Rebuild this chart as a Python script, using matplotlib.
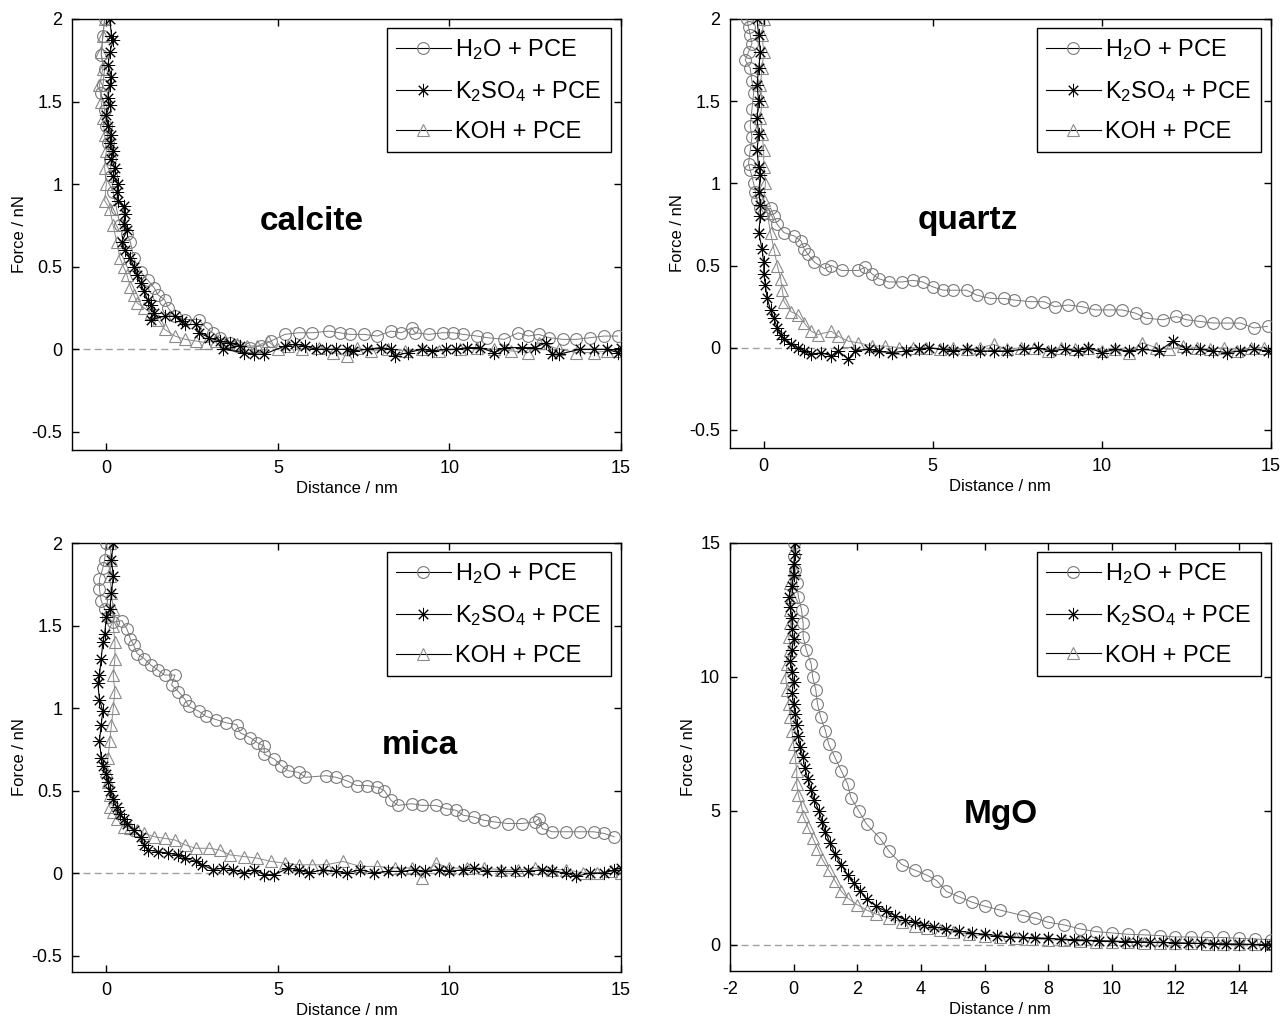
import matplotlib
matplotlib.use("Agg")
import matplotlib.pyplot as plt
from matplotlib.lines import Line2D

plt.rcParams['font.family'] = ['Liberation Sans', 'DejaVu Sans']
plt.rcParams['mathtext.fontset'] = 'custom'
plt.rcParams['mathtext.rm'] = 'Liberation Sans'
plt.rcParams['mathtext.it'] = 'Liberation Sans'
plt.rcParams['axes.unicode_minus'] = False

series_labels = ['H$_2$O + PCE', 'K$_2$SO$_4$ + PCE', 'KOH + PCE']
panel_names = ['calcite', 'quartz', 'mica', 'MgO']

# ---- calcite ----
calcite_h2o_x = [-0.05, -0.1, -0.15, -0.05, -0.1, -0.15, -0.05, 0.0, 0.05, 0.1, 0.15, 0.2, 0.3, 0.4, 0.6, 0.7, 0.8,
                 1.0, 1.2, 1.4, 1.5, 1.7, 1.8, 2.0, 2.3, 2.7, 2.9, 3.1, 3.3, 3.6, 3.8, 4.2, 4.5, 4.8, 5.2, 5.6, 6.0,
                 6.5, 6.8, 7.1, 7.5, 7.9, 8.3, 8.6, 8.9, 9.0, 9.4, 9.8, 10.1, 10.4, 10.8, 11.1, 11.6, 12.0, 12.3,
                 12.6, 12.9, 13.3, 13.7, 14.1, 14.5, 14.9]
calcite_h2o_y = [2.0, 1.9, 1.78, 1.7, 1.6, 1.55, 1.45, 1.35, 1.25, 1.15, 1.05, 0.95, 0.85, 0.75, 0.7, 0.65, 0.55,
                 0.47, 0.42, 0.37, 0.33, 0.3, 0.25, 0.2, 0.18, 0.18, 0.13, 0.1, 0.07, 0.04, 0.02, 0.01, 0.02, 0.05,
                 0.09, 0.1, 0.1, 0.11, 0.1, 0.09, 0.09, 0.08, 0.11, 0.1, 0.13, 0.1, 0.09, 0.1, 0.1, 0.09, 0.08, 0.07,
                 0.06, 0.1, 0.08, 0.09, 0.07, 0.06, 0.06, 0.07, 0.08, 0.08]
calcite_k2so4_x = [0.1, 0.15, 0.2, 0.1, 0.05, 0.15, 0.1, 0.05, 0.1, 0.0, 0.05, 0.15, 0.1, 0.2, 0.15, 0.25, 0.2, 0.35,
                   0.3, 0.35, 0.5, 0.55, 0.5, 0.6, 0.45, 0.55, 0.7, 0.8, 0.9, 1.0, 1.1, 1.2, 1.3, 1.4, 1.3, 1.7, 2.0,
                   2.2, 2.3, 2.6, 2.7, 3.0, 3.3, 3.6, 3.9, 3.4, 4.0, 4.3, 4.6, 5.2, 5.5, 5.8, 6.1, 6.4, 6.7, 7.0, 7.2,
                   7.6, 8.0, 8.3, 8.4, 8.8, 9.2, 9.5, 9.9, 10.2, 10.5, 10.9, 11.3, 11.6, 12.1, 12.5, 12.8, 13.0,
                   13.2, 13.8, 14.2, 14.6, 14.9, 15.0]
calcite_k2so4_y = [2.0, 1.9, 1.87, 1.8, 1.72, 1.65, 1.6, 1.52, 1.48, 1.42, 1.35, 1.3, 1.25, 1.2, 1.15, 1.1, 1.05,
                   1.0, 0.95, 0.9, 0.87, 0.82, 0.76, 0.72, 0.65, 0.6, 0.55, 0.5, 0.45, 0.4, 0.35, 0.3, 0.27, 0.22,
                   0.18, 0.2, 0.2, 0.17, 0.15, 0.15, 0.1, 0.07, 0.05, 0.04, 0.02, 0.0, -0.02, -0.03, -0.03, 0.02,
                   0.03, 0.02, 0.0, 0.0, 0.0, 0.0, -0.01, 0.0, 0.01, 0.0, -0.04, -0.02, 0.0, -0.01, 0.0, 0.0, 0.01,
                   0.01, -0.02, 0.01, 0.01, 0.01, 0.04, -0.03, -0.03, 0.0, 0.0, 0.0, -0.02, 0.01]
calcite_koh_x = [-0.05, -0.1, -0.15, -0.1, -0.2, -0.15, -0.1, -0.05, 0.0, -0.05, 0.0, -0.05, 0.1, 0.2, 0.3, 0.4,
                 0.5, 0.6, 0.7, 0.8, 0.9, 1.1, 1.3, 1.5, 1.7, 2.0, 2.3, 2.6, 2.9, 3.2, 3.5, 3.8, 4.1, 4.4, 4.7, 5.0,
                 5.3, 5.7, 6.2, 6.6, 7.0, 7.3, 7.7, 8.2, 8.7, 9.2, 9.7, 10.3, 10.8, 11.3, 11.8, 12.3, 12.6, 13.2,
                 13.7, 14.2, 14.6, 15.0]
calcite_koh_y = [2.0, 1.9, 1.8, 1.7, 1.6, 1.5, 1.4, 1.3, 1.2, 1.1, 1.0, 0.9, 0.85, 0.75, 0.65, 0.55, 0.5, 0.45,
                 0.38, 0.33, 0.28, 0.25, 0.22, 0.18, 0.12, 0.08, 0.06, 0.05, 0.04, 0.05, 0.04, 0.03, 0.02, 0.02,
                 0.05, 0.0, 0.02, 0.0, 0.01, -0.02, -0.04, 0.01, -0.01, 0.0, -0.01, 0.0, -0.01, 0.0, 0.01, 0.0,
                 -0.01, -0.02, 0.04, 0.0, -0.02, -0.02, -0.01, -0.01]

# ---- quartz ----
quartz_h2o_x = [-0.5, -0.45, -0.4, -0.35, -0.45, -0.55, -0.4, -0.35, -0.3, -0.35, -0.4, -0.35, -0.4, -0.45, -0.4,
                -0.3, -0.25, -0.2, -0.1, 0.0, 0.2, 0.3, 0.4, 0.6, 0.9, 1.1, 1.2, 1.3, 1.5, 1.8, 2.0, 2.3, 2.8, 3.0,
                3.2, 3.4, 3.7, 4.1, 4.4, 4.7, 5.0, 5.3, 5.6, 6.0, 6.3, 6.7, 7.1, 7.4, 7.9, 8.3, 8.6, 9.0, 9.4, 9.8,
                10.2, 10.6, 11.0, 11.3, 11.8, 12.2, 12.5, 12.9, 13.3, 13.7, 14.1, 14.5, 14.9]
quartz_h2o_y = [2.0, 1.95, 1.9, 1.85, 1.8, 1.75, 1.7, 1.62, 1.55, 1.45, 1.35, 1.28, 1.2, 1.12, 1.08, 1.0, 0.95,
                0.9, 0.85, 0.82, 0.85, 0.8, 0.75, 0.7, 0.68, 0.65, 0.6, 0.57, 0.52, 0.48, 0.5, 0.47, 0.47, 0.49,
                0.45, 0.42, 0.4, 0.4, 0.41, 0.4, 0.37, 0.35, 0.35, 0.35, 0.32, 0.3, 0.3, 0.29, 0.28, 0.28, 0.25,
                0.26, 0.25, 0.23, 0.23, 0.23, 0.21, 0.18, 0.17, 0.19, 0.17, 0.16, 0.15, 0.15, 0.15, 0.12, 0.13]
quartz_k2so4_x = [-0.2, -0.15, -0.1, -0.15, -0.2, -0.15, -0.2, -0.15, -0.2, -0.15, -0.1, -0.15, -0.1, -0.1, -0.15,
                  -0.05, 0.0, 0.0, 0.05, 0.1, 0.2, 0.3, 0.4, 0.5, 0.6, 0.8, 1.0, 1.2, 1.4, 1.7, 2.0, 2.2, 2.5, 2.7,
                  3.1, 3.4, 3.8, 4.2, 4.6, 4.9, 5.3, 5.6, 6.0, 6.4, 6.8, 7.2, 7.7, 8.1, 8.5, 8.9, 9.3, 9.6, 10.0,
                  10.4, 10.8, 11.2, 11.7, 12.1, 12.5, 12.9, 13.3, 13.7, 14.1, 14.5, 14.9]
quartz_k2so4_y = [2.0, 1.9, 1.8, 1.7, 1.6, 1.5, 1.4, 1.3, 1.2, 1.1, 1.05, 0.95, 0.87, 0.8, 0.7, 0.6, 0.52, 0.45,
                  0.38, 0.3, 0.23, 0.18, 0.12, 0.08, 0.05, 0.02, 0.0, -0.02, -0.04, -0.03, -0.05, -0.02, -0.07,
                  -0.02, -0.01, -0.02, -0.03, -0.02, -0.01, 0.0, -0.01, -0.02, -0.01, -0.02, -0.02, -0.02, -0.01,
                  0.0, -0.02, -0.01, -0.02, 0.0, -0.03, -0.01, -0.02, -0.01, -0.02, 0.04, -0.01, -0.01, -0.02,
                  -0.03, -0.02, -0.01, -0.02]
quartz_koh_x = [0.0, -0.05, 0.0, -0.05, -0.1, -0.05, -0.1, -0.05, 0.0, 0.0, 0.05, 0.0, 0.1, 0.2, 0.3, 0.4, 0.5,
                0.55, 0.6, 0.8, 1.0, 1.2, 1.4, 1.6, 2.0, 2.2, 2.5, 2.8, 3.2, 3.6, 4.0, 4.4, 4.8, 5.2, 5.6, 6.0, 6.4,
                6.8, 7.2, 7.6, 8.0, 8.4, 8.8, 9.2, 9.6, 10.0, 10.4, 10.8, 11.2, 11.6, 12.0, 12.4, 12.8, 13.2, 13.6,
                14.0, 14.4, 14.8]
quartz_koh_y = [2.0, 1.9, 1.8, 1.7, 1.6, 1.5, 1.4, 1.3, 1.2, 1.1, 1.0, 0.9, 0.82, 0.7, 0.6, 0.5, 0.42, 0.35, 0.28,
                0.22, 0.2, 0.15, 0.1, 0.08, 0.1, 0.07, 0.04, 0.03, 0.01, 0.01, 0.0, 0.0, 0.0, -0.01, 0.0, -0.01, 0.0,
                0.02, -0.01, 0.0, 0.0, -0.02, 0.0, -0.01, 0.0, -0.02, -0.01, -0.03, 0.03, 0.0, -0.01, 0.01, 0.0,
                -0.01, 0.0, -0.02, 0.0, 0.0]

# ---- mica ----
mica_h2o_x = [0.0, -0.05, -0.1, -0.2, -0.2, -0.15, -0.05, 0.05, 0.2, 0.45, 0.6, 0.7, 0.8, 0.9, 1.1, 1.3, 1.5, 1.7,
              2.0, 1.9, 2.1, 2.3, 2.4, 2.7, 2.9, 3.2, 3.5, 3.8, 3.9, 4.2, 4.4, 4.6, 4.6, 4.9, 5.1, 5.3, 5.6, 5.8,
              6.4, 6.7, 7.0, 7.3, 7.6, 7.9, 8.1, 8.3, 8.5, 8.9, 9.2, 9.6, 9.9, 10.2, 10.4, 10.7, 11.0, 11.3, 11.7,
              12.1, 12.5, 12.6, 12.7, 13.0, 13.4, 13.8, 14.2, 14.5, 14.8]
mica_h2o_y = [2.0, 1.9, 1.85, 1.78, 1.72, 1.65, 1.6, 1.55, 1.52, 1.53, 1.48, 1.42, 1.38, 1.33, 1.3, 1.26, 1.23,
              1.2, 1.2, 1.14, 1.1, 1.05, 1.01, 0.98, 0.95, 0.93, 0.91, 0.9, 0.85, 0.82, 0.79, 0.77, 0.72, 0.69, 0.65,
              0.62, 0.61, 0.58, 0.59, 0.58, 0.56, 0.53, 0.53, 0.52, 0.5, 0.44, 0.41, 0.42, 0.41, 0.41, 0.39, 0.38,
              0.35, 0.34, 0.32, 0.31, 0.3, 0.3, 0.31, 0.33, 0.27, 0.25, 0.25, 0.25, 0.25, 0.24, 0.22]
mica_k2so4_x = [0.2, 0.15, 0.2, 0.15, 0.1, 0.0, -0.05, -0.1, -0.15, -0.2, -0.25, -0.2, -0.1, -0.15, -0.2, -0.15,
                -0.1, 0.0, 0.05, 0.1, 0.2, 0.3, 0.4, 0.5, 0.6, 0.8, 1.0, 1.1, 1.2, 1.5, 1.8, 2.1, 2.3, 2.6, 2.8,
                3.1, 3.4, 3.7, 4.0, 4.3, 4.6, 4.9, 5.3, 5.6, 5.9, 6.3, 6.7, 7.0, 7.4, 7.8, 8.2, 8.6, 9.0, 9.3, 9.7,
                10.0, 10.4, 10.7, 11.1, 11.5, 11.9, 12.3, 12.7, 13.0, 13.4, 13.7, 14.1, 14.5, 14.8, 15.0]
mica_k2so4_y = [2.0, 1.9, 1.8, 1.7, 1.6, 1.55, 1.45, 1.4, 1.3, 1.2, 1.15, 1.05, 0.98, 0.9, 0.8, 0.7, 0.65, 0.6,
                0.55, 0.5, 0.45, 0.4, 0.36, 0.33, 0.3, 0.26, 0.22, 0.17, 0.14, 0.13, 0.12, 0.11, 0.09, 0.07, 0.05,
                0.02, 0.03, 0.02, 0.0, 0.02, -0.01, -0.01, 0.03, 0.02, 0.0, 0.02, 0.01, 0.0, 0.02, 0.0, 0.01, 0.01,
                0.02, 0.01, 0.02, 0.01, 0.02, 0.03, 0.01, 0.01, 0.01, 0.01, 0.02, 0.01, 0.0, -0.02, 0.0, 0.0, 0.02,
                0.03]
mica_koh_x = [0.1, 0.15, 0.1, 0.15, 0.2, 0.2, 0.25, 0.25, 0.2, 0.25, 0.2, 0.15, 0.1, 0.05, 0.0, 0.05, 0.1, 0.1, 0.2,
              0.3, 0.5, 0.7, 0.9, 1.1, 1.4, 1.7, 2.0, 2.3, 2.6, 3.0, 3.3, 3.6, 4.0, 4.4, 4.8, 5.2, 5.6, 6.0, 6.4,
              6.9, 7.4, 7.9, 8.4, 8.9, 9.2, 9.6, 10.0, 10.5, 11.0, 11.5, 12.0, 12.5, 13.0, 13.4, 13.9, 14.3, 14.7,
              15.0]
mica_koh_y = [2.0, 1.9, 1.8, 1.7, 1.6, 1.5, 1.4, 1.3, 1.2, 1.1, 1.0, 0.9, 0.8, 0.7, 0.62, 0.55, 0.47, 0.4, 0.37,
              0.33, 0.28, 0.27, 0.26, 0.24, 0.22, 0.21, 0.2, 0.17, 0.15, 0.15, 0.14, 0.11, 0.1, 0.09, 0.07, 0.06,
              0.05, 0.05, 0.05, 0.07, 0.04, 0.04, 0.03, 0.03, -0.03, 0.06, 0.03, 0.03, 0.03, 0.02, 0.02, 0.03, 0.02,
              0.02, 0.0, 0.0, 0.01, 0.0]

# ---- MgO ----
mgo_h2o_x = [0.0, 0.0, 0.05, 0.1, 0.15, 0.25, 0.3, 0.3, 0.4, 0.55, 0.6, 0.7, 0.75, 0.85, 1.0, 1.1, 1.3, 1.5, 1.7,
             1.8, 2.05, 2.3, 2.7, 3.0, 3.4, 3.8, 4.2, 4.5, 4.8, 5.2, 5.6, 6.0, 6.5, 7.2, 7.6, 8.0, 8.5, 9.0, 9.5,
             10.0, 10.5, 11.0, 11.5, 12.0, 12.5, 13.0, 13.5, 14.0, 14.5, 15.0]
mgo_h2o_y = [15.0, 14.5, 14.0, 13.5, 13.0, 12.5, 12.0, 11.5, 11.0, 10.5, 10.0, 9.5, 9.0, 8.5, 8.0, 7.5, 7.0, 6.5,
             6.0, 5.5, 5.0, 4.5, 4.0, 3.5, 3.0, 2.8, 2.6, 2.4, 2.0, 1.8, 1.6, 1.45, 1.3, 1.1, 1.0, 0.85, 0.75, 0.6,
             0.5, 0.45, 0.4, 0.38, 0.35, 0.3, 0.3, 0.28, 0.28, 0.25, 0.22, 0.2]
mgo_k2so4_x = [0.05, 0.05, 0.0, 0.0, -0.05, -0.15, -0.1, -0.05, -0.05, 0.0, -0.05, -0.1, -0.05, 0.0, -0.05, 0.0,
               0.05, 0.1, 0.15, 0.2, 0.3, 0.35, 0.45, 0.55, 0.65, 0.8, 0.9, 1.0, 1.15, 1.3, 1.5, 1.7, 1.9, 2.1, 2.3,
               2.6, 2.9, 3.2, 3.5, 3.8, 4.1, 4.4, 4.8, 5.2, 5.6, 6.0, 6.4, 6.8, 7.2, 7.6, 8.0, 8.4, 8.8, 9.2, 9.6,
               10.0, 10.4, 10.8, 11.2, 11.6, 12.0, 12.4, 12.8, 13.2, 13.6, 14.0, 14.4, 14.8, 15.0]
mgo_k2so4_y = [15.0, 14.6, 14.2, 13.8, 13.4, 13.0, 12.6, 12.2, 11.8, 11.4, 11.0, 10.6, 10.2, 9.8, 9.4, 9.0, 8.6,
               8.2, 7.8, 7.4, 7.0, 6.6, 6.2, 5.8, 5.4, 5.0, 4.6, 4.2, 3.8, 3.4, 3.0, 2.6, 2.3, 2.0, 1.7, 1.45, 1.25,
               1.1, 0.95, 0.85, 0.75, 0.68, 0.6, 0.52, 0.45, 0.4, 0.35, 0.3, 0.28, 0.27, 0.25, 0.22, 0.2, 0.18,
               0.16, 0.15, 0.13, 0.12, 0.1, 0.1, 0.08, 0.07, 0.06, 0.05, 0.04, 0.03, 0.02, 0.01, 0.0]
mgo_koh_x = [0.0, -0.1, -0.05, -0.1, -0.1, -0.15, -0.1, -0.2, -0.25, -0.2, -0.15, -0.1, -0.05, 0.0, 0.05, 0.1, 0.1,
             0.15, 0.25, 0.3, 0.45, 0.6, 0.75, 0.9, 1.1, 1.3, 1.5, 1.7, 2.0, 2.3, 2.6, 3.0, 3.4, 3.8, 4.2, 4.6, 5.0,
             5.5, 6.0, 6.5, 7.0, 7.5, 8.0, 8.5, 9.0, 9.5, 10.0, 10.5, 11.0, 11.5, 12.0, 12.5, 13.0, 13.5, 14.0,
             14.5, 15.0]
mgo_koh_y = [14.0, 13.5, 13.0, 12.5, 12.0, 11.5, 11.0, 10.5, 10.0, 9.5, 9.0, 8.5, 8.0, 7.5, 7.0, 6.5, 6.0, 5.6,
             5.2, 4.8, 4.4, 4.0, 3.6, 3.2, 2.8, 2.4, 2.0, 1.75, 1.5, 1.3, 1.15, 1.0, 0.85, 0.72, 0.62, 0.55, 0.48,
             0.4, 0.35, 0.3, 0.26, 0.23, 0.2, 0.17, 0.15, 0.13, 0.12, 0.1, 0.09, 0.08, 0.07, 0.06, 0.05, 0.05, 0.04,
             0.03, 0.03]

circle_gray = '#7a7a7a'
tri_gray = '#8a8a8a'

fig = plt.figure(figsize=(12.84, 10.16), dpi=100)
positions = [
    [0.0561, 0.5571, 0.4276, 0.4242],
    [0.5685, 0.5591, 0.4213, 0.4222],
    [0.0561, 0.0433, 0.4276, 0.4222],
    [0.5685, 0.0443, 0.4213, 0.4213],
]
panels = [
    (calcite_h2o_x, calcite_h2o_y, calcite_k2so4_x, calcite_k2so4_y, calcite_koh_x, calcite_koh_y),
    (quartz_h2o_x, quartz_h2o_y, quartz_k2so4_x, quartz_k2so4_y, quartz_koh_x, quartz_koh_y),
    (mica_h2o_x, mica_h2o_y, mica_k2so4_x, mica_k2so4_y, mica_koh_x, mica_koh_y),
    (mgo_h2o_x, mgo_h2o_y, mgo_k2so4_x, mgo_k2so4_y, mgo_koh_x, mgo_koh_y),
]
xlims = [(-1, 15), (-1, 15), (-1, 15), (-2, 15)]
ylims = [(-0.61, 2), (-0.61, 2), (-0.6, 2), (-0.97, 15)]
yticks = [[-0.5, 0, 0.5, 1, 1.5, 2]] * 3 + [[0, 5, 10, 15]]
xticks = [[0, 5, 10, 15]] * 3 + [list(range(-2, 15, 2))]
name_pos = [(6.0, 0.775), (6.05, 0.775), (9.15, 0.775), (6.5, 4.85)]

asterisk = (8, 2, 0)

for i, pos in enumerate(positions):
    ax = fig.add_axes(pos)
    hx, hy, kx, ky, ox, oy = panels[i]
    ax.axhline(0, color='#a0a0a0', ls='--', lw=1, dashes=(5, 3), zorder=1)
    ax.plot(ox, oy, color=tri_gray, lw=0.7, marker='^', ms=8.5, mfc='none', mec=tri_gray, mew=0.8, zorder=2)
    ax.plot(hx, hy, color=circle_gray, lw=0.7, marker='o', ms=8.5, mfc='none', mec=circle_gray, mew=0.8, zorder=3)
    ax.plot(kx, ky, color='black', lw=0.8, marker=asterisk, ms=9.5, mec='black', mew=0.7, zorder=4)
    ax.set_xlim(*xlims[i])
    ax.set_ylim(*ylims[i])
    ax.set_xticks(xticks[i])
    ax.set_yticks(yticks[i])
    ax.set_yticklabels([f'{t:g}' for t in yticks[i]])
    ax.tick_params(direction='in', top=True, right=True, length=5, width=1, labelsize=13, pad=7)
    for s in ax.spines.values():
        s.set_linewidth(1)
    ax.set_xlabel('Distance / nm', fontsize=12, labelpad=3)
    ax.set_ylabel('Force / nN', fontsize=12, labelpad=3)
    ax.text(name_pos[i][0], name_pos[i][1], panel_names[i], fontsize=24, fontweight='bold',
            ha='center', va='center')

    handles = [
        Line2D([], [], color='black', lw=0.8, marker='o', ms=8.5, mfc='none', mec=circle_gray, mew=0.8),
        Line2D([], [], color='black', lw=0.8, marker=asterisk, ms=9.5, mec='black', mew=0.7),
        Line2D([], [], color='black', lw=0.8, marker='^', ms=8.5, mfc='none', mec=tri_gray, mew=0.8),
    ]
    leg = ax.legend(handles, series_labels, loc='upper right', bbox_to_anchor=(0.982, 0.98),
                    fontsize=17, numpoints=1, handlelength=2.3, handletextpad=0.2, labelspacing=0.72,
                    borderpad=0.4, borderaxespad=0, fancybox=False, framealpha=1, edgecolor='black')
    leg.get_frame().set_linewidth(1)

fig.savefig('out.png', dpi=100)
